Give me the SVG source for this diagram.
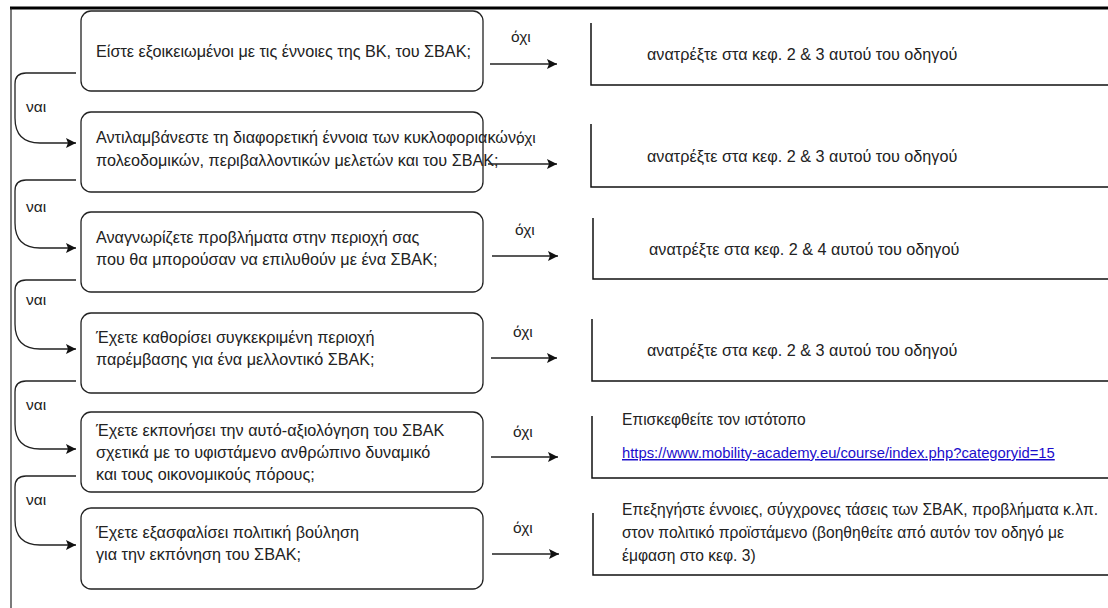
<svg xmlns="http://www.w3.org/2000/svg" width="1108" height="608" viewBox="0 0 1108 608">
<style>
.q{fill:#fff;stroke:#222;stroke-width:1.3}
.t{font-family:"Liberation Sans",Arial,sans-serif;font-size:16.2px;fill:#222}
.s{font-family:"Liberation Sans",Arial,sans-serif;font-size:15.5px;fill:#222}
.r{font-family:"Liberation Sans",Arial,sans-serif;font-size:16.2px;fill:#222}
.r2{font-family:"Liberation Sans",Arial,sans-serif;font-size:15.6px;fill:#222}
.c{fill:none;stroke:#222;stroke-width:1.3}
.b{fill:none;stroke:#111;stroke-width:1.5}
.lk{font-family:"Liberation Sans",Arial,sans-serif;font-size:14.8px;fill:#1a0dcc;text-decoration:underline}
</style>
<defs>
<marker id="ah" viewBox="0 0 10 10" refX="10" refY="5" markerWidth="10" markerHeight="10" markerUnits="userSpaceOnUse" orient="auto">
<path d="M0,0 L10,5 L0,10 L2,5 z" fill="#111"/>
</marker>
</defs>
<rect width="1108" height="608" fill="#fff"/>
<g id="frame">
<line x1="10" y1="8" x2="1108" y2="8" stroke="#000" stroke-width="3"/>
<line x1="11" y1="8" x2="11" y2="608" stroke="#222" stroke-width="1.2"/>
</g>
<g id="q1"><rect class="q" x="81" y="11" width="402" height="80" rx="10"/>
<text class="t" x="96" y="57">Είστε εξοικειωμένοι με τις έννοιες της ΒΚ, του ΣΒΑΚ;</text></g>
<g id="q2"><rect class="q" x="81" y="112" width="402" height="80" rx="10"/>
<text class="t" x="96" y="143">Αντιλαμβάνεστε τη διαφορετική έννοια των κυκλοφοριακών,</text>
<text class="t" x="96" y="166"> πολεοδομικών, περιβαλλοντικών μελετών και του ΣΒΑΚ;</text></g>
<g id="q3"><rect class="q" x="81" y="212" width="402" height="80" rx="10"/>
<text class="t" x="96" y="243">Αναγνωρίζετε προβλήματα στην περιοχή σας</text>
<text class="t" x="96" y="265">που θα μπορούσαν να επιλυθούν με ένα ΣΒΑΚ;</text></g>
<g id="q4"><rect class="q" x="81" y="313" width="402" height="80" rx="10"/>
<text class="t" x="96" y="343">Έχετε καθορίσει συγκεκριμένη περιοχή</text>
<text class="t" x="96" y="365">παρέμβασης για ένα μελλοντικό ΣΒΑΚ;</text></g>
<g id="q5"><rect class="q" x="81" y="412" width="402" height="80" rx="10"/>
<text class="t" x="96" y="436">Έχετε εκπονήσει την αυτό-αξιολόγηση του ΣΒΑΚ</text>
<text class="t" x="96" y="458">σχετικά με το υφιστάμενο ανθρώπινο δυναμικό</text>
<text class="t" x="96" y="480">και τους οικονομικούς πόρους;</text></g>
<g id="q6"><rect class="q" x="81" y="508" width="402" height="81" rx="10"/>
<text class="t" x="96" y="538">Έχετε εξασφαλίσει πολιτική βούληση</text>
<text class="t" x="96" y="560">για την εκπόνηση του ΣΒΑΚ;</text></g>
<g id="a1"><path class="b" d="M591,23 V85 H1108"/>
<text class="r" x="647" y="60">ανατρέξτε στα κεφ. 2 &amp; 3 αυτού του οδηγού</text></g>
<g id="a2"><path class="b" d="M591,124 V187 H1108"/>
<text class="r" x="647" y="162">ανατρέξτε στα κεφ. 2 &amp; 3 αυτού του οδηγού</text></g>
<g id="a3"><path class="b" d="M593,218 V279 H1108"/>
<text class="r" x="649" y="255">ανατρέξτε στα κεφ. 2 &amp; 4 αυτού του οδηγού</text></g>
<g id="a4"><path class="b" d="M592,319 V381 H1108"/>
<text class="r" x="647" y="356">ανατρέξτε στα κεφ. 2 &amp; 3 αυτού του οδηγού</text></g>
<g id="a5"><path class="b" d="M592,416 V478 H1108"/>
<text class="r2" x="622" y="425">Επισκεφθείτε τον ιστότοπο</text>
<text class="lk" x="622" y="458">https://www.mobility-academy.eu/course/index.php?categoryid=15</text></g>
<g id="a6"><path class="b" d="M593,513 V575 H1108"/>
<text class="r2" x="622" y="515">Επεξηγήστε έννοιες, σύγχρονες τάσεις των ΣΒΑΚ, προβλήματα κ.λπ.</text>
<text class="r2" x="622" y="538">στον πολιτικό προϊστάμενο (βοηθηθείτε από αυτόν τον οδηγό με</text>
<text class="r2" x="622" y="561">έμφαση στο κεφ. 3)</text></g>
<g id="connectors">
<path class="c" d="M76,73 H26 Q15,73 15,84 V118 Q15,143 40,143 H76" marker-end="url(#ah)"/>
<path class="c" d="M76,180 H26 Q15,180 15,191 V223 Q15,248 40,248 H76" marker-end="url(#ah)"/>
<path class="c" d="M76,280 H26 Q15,280 15,291 V324 Q15,349 40,349 H76" marker-end="url(#ah)"/>
<path class="c" d="M76,381 H26 Q15,381 15,392 V424 Q15,449 40,449 H76" marker-end="url(#ah)"/>
<path class="c" d="M76,476 H26 Q15,476 15,487 V520 Q15,545 40,545 H76" marker-end="url(#ah)"/>
<line class="c" x1="490" y1="64" x2="557" y2="64" marker-end="url(#ah)"/>
<line class="c" x1="488" y1="164" x2="557" y2="164" marker-end="url(#ah)"/>
<line class="c" x1="492" y1="256" x2="558" y2="256" marker-end="url(#ah)"/>
<line class="c" x1="491" y1="358" x2="557" y2="358" marker-end="url(#ah)"/>
<line class="c" x1="491" y1="457" x2="558" y2="457" marker-end="url(#ah)"/>
<line class="c" x1="492" y1="554" x2="559" y2="554" marker-end="url(#ah)"/>
<text class="s" x="511" y="42">όχι</text>
<text class="s" x="516" y="143">όχι</text>
<text class="s" x="515" y="235">όχι</text>
<text class="s" x="513" y="337">όχι</text>
<text class="s" x="513" y="437">όχι</text>
<text class="s" x="513" y="533">όχι</text>
<text class="s" x="26" y="112">ναι</text>
<text class="s" x="26" y="212">ναι</text>
<text class="s" x="26" y="305">ναι</text>
<text class="s" x="26" y="410">ναι</text>
<text class="s" x="26" y="505">ναι</text>
</g>
</svg>
